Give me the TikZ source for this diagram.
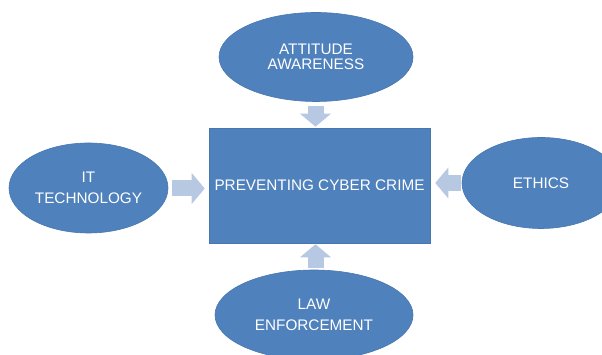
\documentclass[tikz,border=0pt]{standalone}
\usepackage{fontspec}
\setmainfont{Liberation Sans}
\usetikzlibrary{shapes.geometric,arrows.meta}

\definecolor{fillblue}{HTML}{4F81BD}
\definecolor{edgeblue}{HTML}{4877B0}
\definecolor{arrowblue}{HTML}{B7C8E2}

\tikzset{
  topic/.style={ellipse, fill=fillblue, draw=edgeblue, line width=0.6pt,
                text=white, align=center, inner sep=0pt},
  core/.style={rectangle, fill=fillblue, draw=edgeblue, line width=0.6pt,
               text=white, minimum width=221pt, minimum height=115pt,
               font=\fontsize{15.3}{18}\selectfont},
  flow/.style={draw=arrowblue, line width=16pt,
               -{Triangle[width=31pt,length=13pt,line width=0pt]}}
}

\begin{document}
\begin{tikzpicture}[x=1pt,y=1pt]
  \useasboundingbox (0,0) rectangle (602,355);
  \clip (0,0) rectangle (602,355);
  \node[core]  (crime)  at (319.5,169.5) {PREVENTING CYBER CRIME};
  \node[topic, minimum width=194pt, minimum height=89pt,
        font=\fontsize{15.3}{15}\selectfont]
               (attit)  at (316,298)     {ATTITUDE\\AWARENESS};
  \node[topic, minimum width=159pt, minimum height=90pt,
        font=\fontsize{15.3}{21}\selectfont]
               (tech)   at (88.5,167)    {IT\\TECHNOLOGY};
  \node[topic, minimum width=158pt, minimum height=91pt,
        font=\fontsize{15.3}{21}\selectfont]
               (ethics) at (541,172)     {ETHICS};
  \node[topic, minimum width=198pt, minimum height=90pt,
        font=\fontsize{15.3}{21}\selectfont]
               (law)    at (314,40)      {LAW\\ENFORCEMENT};
  % block arrows into the centre box
  \draw[flow, shorten <=4pt, shorten >=1pt]
       ([xshift=-0.5pt]attit.south) -- ([xshift=-0.5pt]attit.south |- crime.north);
  \draw[flow, shorten <=4pt, shorten >=4pt]
       ([yshift=-0.5pt]tech.east) -- ([yshift=-0.5pt]tech.east -| crime.west);
  \draw[flow, shorten <=1pt, shorten >=5pt]
       (ethics.west) -- (ethics.west -| crime.east);
  \draw[flow, shorten <=2pt, shorten >=1pt]
       ([xshift=1.5pt]law.north) -- ([xshift=1.5pt]law.north |- crime.south);
\end{tikzpicture}
\end{document}
